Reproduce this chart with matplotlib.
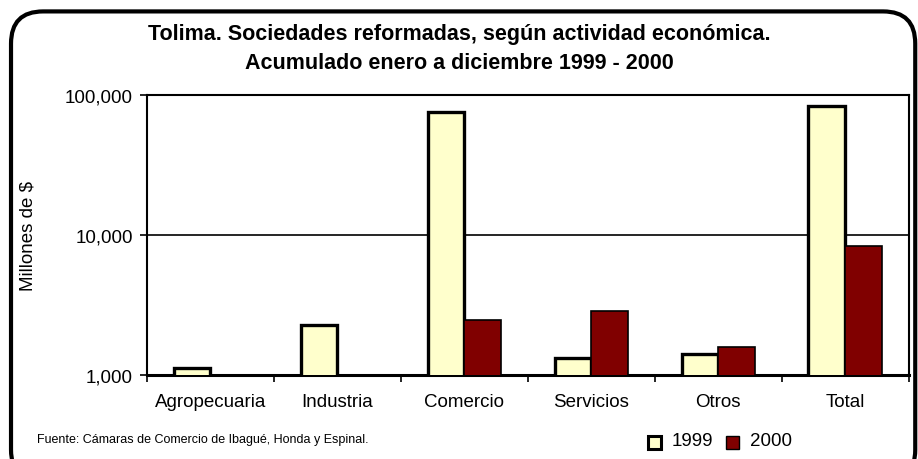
import numpy as np
import matplotlib
matplotlib.use("Agg")
import matplotlib.pyplot as plt
from matplotlib.patches import FancyBboxPatch, Rectangle
from matplotlib.ticker import FuncFormatter, FixedLocator, NullLocator

plt.rcParams['font.family'] = ['Liberation Sans', 'DejaVu Sans']

categories = ["Agropecuaria", "Industria", "Comercio", "Servicios", "Otros", "Total"]
values_1999 = [1115, 2260, 75500, 1320, 1410, 83000]
values_2000 = [np.nan, np.nan, 2460, 2860, 1590, 8400]
series_names = ["1999", "2000"]
yticks = [1000, 10000, 100000]

color_1999 = "#FFFFCC"
color_2000 = "#800000"

fig = plt.figure(figsize=(9.18, 4.60), dpi=100)
ax = fig.add_axes([0.160, 0.183, 0.830, 0.608])

x = np.arange(len(categories))
w = 0.29
ax.bar(x - w / 2, values_1999, w, bottom=0, color=color_1999,
       edgecolor="black", linewidth=2.4, zorder=3)
ax.bar(x + w / 2, values_2000, w, bottom=0, color=color_2000,
       edgecolor="black", linewidth=1.2, zorder=3)

ax.set_yscale("log")
ax.set_ylim(1000, 100000)
ax.set_xlim(-0.5, len(categories) - 0.5)
ax.yaxis.set_major_locator(FixedLocator(yticks))
ax.yaxis.set_minor_locator(NullLocator())
ax.yaxis.set_major_formatter(FuncFormatter(lambda v, p: f"{int(round(v)):,}"))
ax.grid(axis="y", color="black", linewidth=1.2, zorder=1)

ax.set_xticks(np.arange(len(categories) + 1) - 0.5, minor=True)
ax.set_xticks(x)
ax.set_xticklabels(categories, fontsize=13.5)
ax.tick_params(axis="x", which="major", length=0, pad=13)
ax.tick_params(axis="x", which="minor", length=5, width=1.2, direction="out")
ax.tick_params(axis="y", labelsize=13.5, length=5, width=1.2, pad=5)
for s in ax.spines.values():
    s.set_linewidth(1.5)
    s.set_color("black")
ax.spines["bottom"].set_linewidth(2.2)

fig.text(0.030, 0.487, "Millones de $", rotation=90, ha="center", va="center",
         fontsize=13.5)

fig.text(0.5, 0.926, "Tolima. Sociedades reformadas, según actividad económica.",
         ha="center", va="center", fontsize=15.5, fontweight="bold")
fig.text(0.5, 0.861, "Acumulado enero a diciembre 1999 - 2000",
         ha="center", va="center", fontsize=15.5, fontweight="bold")

fig.text(0.040, 0.043, "Fuente: Cámaras de Comercio de Ibagué, Honda y Espinal.",
         ha="left", va="center", fontsize=9)

# legend
lx = [0.706, 0.791]
for i, name in enumerate(series_names):
    col = color_1999 if i == 0 else color_2000
    fig.patches.append(Rectangle((lx[i], 0.022), 0.0145, 0.029, transform=fig.transFigure,
                                 facecolor=col, edgecolor="black",
                                 linewidth=2.2 if i == 0 else 1.0))
    fig.text(lx[i] + 0.026, 0.040, name, ha="left", va="center", fontsize=13.5)

border = FancyBboxPatch((0.012, -0.05), 0.985, 1.023, transform=fig.transFigure,
                        boxstyle="round,pad=0,rounding_size=0.035",
                        facecolor="none", edgecolor="black", linewidth=3.0,
                        mutation_aspect=2.0)
fig.patches.append(border)

fig.savefig("out.png", dpi=100)
